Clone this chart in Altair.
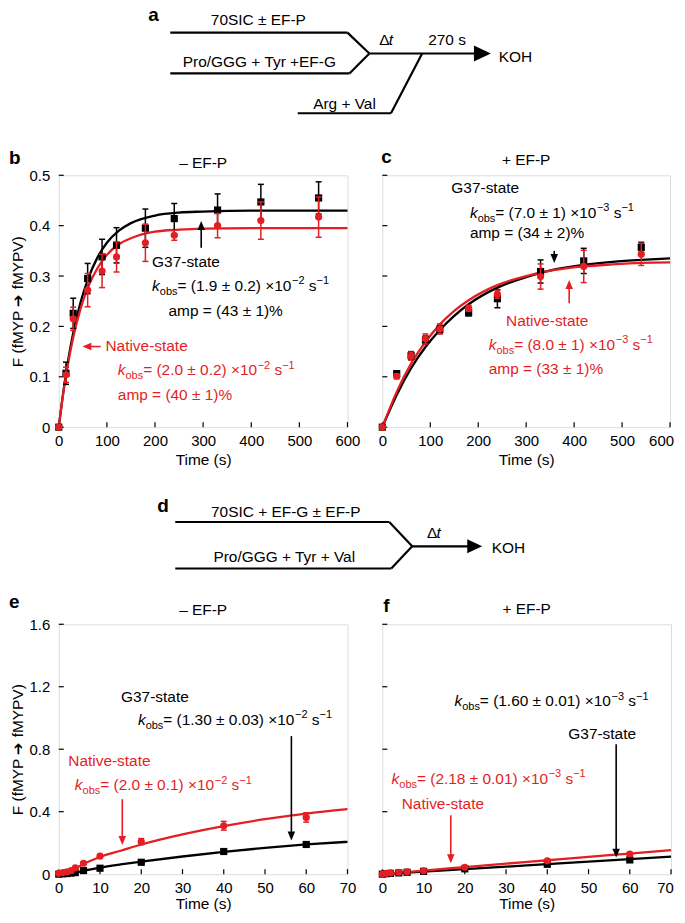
import altair as alt
import pandas as pd

FONT = "Liberation Sans"
RED = "#E31E24"
BLK = "#000000"

# ---------------- panel b: - EF-P (Arg + Val after 270 s) ----------------
b_t = [0, 15, 30, 60, 90, 120, 180, 240, 330, 420, 540]
b_g37 = [0, 0.107, 0.226, 0.295, 0.338, 0.361, 0.395, 0.414, 0.431, 0.447, 0.455]
b_g37_err = [0, 0.022, 0.030, 0.030, 0.035, 0.035, 0.038, 0.030, 0.032, 0.035, 0.032]
b_nat = [0, 0.104, 0.215, 0.272, 0.310, 0.338, 0.366, 0.381, 0.400, 0.410, 0.417]
b_nat_err = [0, 0.015, 0.023, 0.033, 0.033, 0.030, 0.037, 0.010, 0.024, 0.037, 0.040]
b_fit_t = [0, 10, 20, 30, 45, 60, 80, 100, 125, 150, 200, 250, 300, 400, 600]
b_fit_g37 = [0, 0.074, 0.136, 0.187, 0.247, 0.292, 0.336, 0.366, 0.390, 0.405, 0.420, 0.426, 0.428, 0.430, 0.430]
b_fit_nat = [0, 0.072, 0.130, 0.178, 0.234, 0.276, 0.315, 0.342, 0.363, 0.375, 0.388, 0.392, 0.394, 0.395, 0.395]

# ---------------- panel c: + EF-P ----------------
c_t = [0, 30, 60, 90, 120, 180, 240, 330, 420, 540]
c_g37 = [0, 0.106, 0.142, 0.173, 0.194, 0.227, 0.255, 0.309, 0.330, 0.357]
c_g37_err = [0, 0.006, 0.008, 0.008, 0.008, 0.006, 0.018, 0.023, 0.025, 0.010]
c_nat = [0, 0.101, 0.141, 0.175, 0.195, 0.236, 0.264, 0.299, 0.319, 0.343]
c_nat_err = [0, 0.005, 0.008, 0.010, 0.010, 0.006, 0.008, 0.025, 0.032, 0.022]
c_fit_t = [0, 30, 60, 90, 120, 150, 180, 240, 300, 360, 420, 480, 540, 600]
c_fit_g37 = [0, 0.064, 0.117, 0.159, 0.193, 0.221, 0.244, 0.277, 0.298, 0.313, 0.322, 0.328, 0.332, 0.335]
c_fit_nat = [0, 0.070, 0.126, 0.169, 0.204, 0.231, 0.252, 0.282, 0.300, 0.312, 0.319, 0.323, 0.326, 0.327]

# ---------------- panel e: - EF-P (Pro/GGG + Tyr + Val) ----------------
e_t = [0, 1, 2, 3, 4, 6, 10, 20, 40, 60]
e_g37 = [0, 0.002, 0.004, 0.007, 0.010, 0.023, 0.038, 0.076, 0.145, 0.190]
e_g37_err = [0, 0.002, 0.002, 0.003, 0.004, 0.005, 0.006, 0.008, 0.010, 0.012]
e_nat = [0.005, 0.010, 0.015, 0.022, 0.040, 0.070, 0.115, 0.208, 0.310, 0.363]
e_nat_err = [0.004, 0.005, 0.005, 0.006, 0.008, 0.010, 0.012, 0.020, 0.028, 0.030]
e_fit_t = [0, 2, 4, 6, 10, 15, 20, 30, 40, 50, 60, 70]
e_fit_g37 = [0, 0.002, 0.010, 0.022, 0.042, 0.062, 0.080, 0.113, 0.143, 0.168, 0.190, 0.207]
e_fit_nat = [0, 0.010, 0.035, 0.065, 0.110, 0.150, 0.190, 0.255, 0.308, 0.352, 0.388, 0.416]

# ---------------- panel f: + EF-P ----------------
f_t = [0, 1, 2, 4, 6, 10, 20, 40, 60]
f_g37 = [0, 0.003, 0.005, 0.008, 0.012, 0.018, 0.034, 0.063, 0.091]
f_g37_err = [0, 0.002, 0.002, 0.003, 0.003, 0.004, 0.005, 0.006, 0.008]
f_nat = [0, 0.005, 0.008, 0.012, 0.015, 0.021, 0.044, 0.085, 0.129]
f_nat_err = [0, 0.002, 0.003, 0.003, 0.004, 0.005, 0.006, 0.008, 0.010]
f_fit_t = [0, 10, 20, 30, 40, 50, 60, 70]
f_fit_g37 = [0, 0.016, 0.032, 0.048, 0.064, 0.080, 0.096, 0.112]
f_fit_nat = [0, 0.023, 0.045, 0.067, 0.089, 0.111, 0.132, 0.154]

# ---------------- axes ticks ----------------
ticks_long_t = [0, 100, 200, 300, 400, 500, 600]
ticks_short_t = [0, 10, 20, 30, 40, 50, 60, 70]
ticks_F_top = [0, 0.1, 0.2, 0.3, 0.4, 0.5]
ticks_F_bottom = [0, 0.4, 0.8, 1.2, 1.6]

# ---------------- schematic texts ----------------
schem_a_texts = ["70SIC ± EF-P", "Pro/GGG + Tyr +EF-G", "270 s", "KOH", "Arg + Val"]
schem_d_texts = ["70SIC + EF-G ± EF-P", "Pro/GGG + Tyr + Val", "KOH"]

# ---------------- text metrics (Arial / Liberation Sans) ----------------
CW = {' ': 278, '(': 333, ')': 333, '.': 278, '±': 584, '=': 584, '×': 584, '−': 584,
      '%': 889, '-': 333, '+': 584, 'k': 500, 'o': 556, 'b': 556, 's': 500, 'Δ': 612}


def tw(s, fs):
    return sum(CW.get(ch, 556) for ch in s) / 1000.0 * fs


FS = 15.5
SUB = 11


def kobs_segs(mant, exp):
    # (text, font size, style, dy, gap before)
    return [("k", FS, "italic", 0, 0), ("obs", SUB, "normal", 4, 0),
            ("= (" + mant + ") ×10", FS, "normal", 0, 0), ("−" + exp, SUB, "normal", -6.5, 0),
            ("s", FS, "normal", 0, tw(" ", FS)), ("−1", SUB, "normal", -6.5, 0)]


ONE = alt.Data(values=[{"k": 0}])

HEAD_DOWN = "M0,0 L-0.42,-1 L0.42,-1 Z"
HEAD_UP = "M0,0 L-0.42,1 L0.42,1 Z"
HEAD_LEFT = "M0,0 L1,-0.42 L1,0.42 Z"
HEAD_RIGHT = "M0,0 L-1,-0.47 L-1,0.47 Z"


# ---------------- schematic helpers (pixel offsets relative to a panel) ----------------
def sline(x1, y1, x2, y2):
    return alt.Chart(ONE).mark_rule(color=BLK, strokeWidth=2.2).encode(
        x=alt.value(x1), x2=alt.value(x2), y=alt.value(y1), y2=alt.value(y2))


def stext(x, y, text, align="left", fs=15.5, weight="normal", style="normal"):
    return alt.Chart(ONE).mark_text(text=text, align=align, baseline="alphabetic", fontSize=fs,
                                    fontWeight=weight, fontStyle=style, color=BLK, font=FONT
                                    ).encode(x=alt.value(x), y=alt.value(y))


def shead(x, y, length):
    return alt.Chart(ONE).mark_point(shape=HEAD_RIGHT, filled=True, size=(2 * length) ** 2,
                                     opacity=1, color=BLK).encode(x=alt.value(x), y=alt.value(y))


def sdelta(x, y):
    return [stext(x, y, "Δ"), stext(x + tw("Δ", 15.5), y, "t", style="italic")]


def schem_a_layers(oy):
    return [
        sline(112, 22.7 + oy, 290, 22.7 + oy), sline(290, 22.7 + oy, 312, 43.7 + oy),
        sline(112, 63.7 + oy, 292, 63.7 + oy), sline(292, 63.7 + oy, 312, 43.7 + oy),
        sline(312, 43.7 + oy, 424, 43.7 + oy), shead(434, 43.7 + oy, 17),
        sline(365, 43.7 + oy, 333.7, 103.7 + oy), sline(240, 103.7 + oy, 333.7, 103.7 + oy),
        stext(90, 11 + oy, "a", fs=19, weight="bold"),
        stext(200.5, 15 + oy, schem_a_texts[0], align="center"),
        stext(201.5, 57 + oy, schem_a_texts[1], align="center"),
        *sdelta(322, 35 + oy),
        stext(390, 35 + oy, schem_a_texts[2], align="center"),
        stext(442, 52.5 + oy, schem_a_texts[3]),
        stext(287, 99 + oy, schem_a_texts[4], align="center"),
    ]


def schem_d_layers(oy):
    return [
        sline(117, 95.3 + oy, 332, 95.3 + oy), sline(332, 95.3 + oy, 355, 119.7 + oy),
        sline(117, 142 + oy, 334, 142 + oy), sline(334, 142 + oy, 355, 119.7 + oy),
        sline(355, 119.7 + oy, 416, 119.7 + oy), shead(425.3, 119.7 + oy, 15),
        stext(99, 85 + oy, "d", fs=19, weight="bold"),
        stext(228, 90 + oy, schem_d_texts[0], align="center"),
        stext(226.5, 135 + oy, schem_d_texts[1], align="center"),
        *sdelta(370, 111 + oy),
        stext(435, 126.5 + oy, schem_d_texts[2]),
    ]


def make_panel(P, extra=()):
    w, h = P["w"], P["h"]
    xs = alt.Scale(domain=P["xdom"], nice=False, zero=False)
    ys = alt.Scale(domain=P["ydom"], nice=False, zero=False)
    last = P["xticks"][-1]
    xaxis = alt.Axis(values=P["xticks"], title="Time (s)", domain=False, ticks=False, grid=False,
                     labelFontSize=15, labelFont=FONT, labelColor=BLK,
                     labelPadding=P["lpad"], labelFlush=False, labelOverlap=False, format="d",
                     labelOffset={"condition": {"test": "datum.value == %d" % last,
                                                "value": P["last_off"]}, "value": 0},
                     titleFontSize=15.5, titleFont=FONT, titleFontWeight="normal",
                     titleColor=BLK, titlePadding=P["tpad"])
    if P["ylab"]:
        yaxis = alt.Axis(values=P["yticks"], title="F (fMYP ➔ fMYPV)", domain=False, ticks=False,
                         grid=False, labelFontSize=15, labelFont=FONT, labelColor=BLK,
                         labelPadding=9, labelFlush=False, labelOverlap=False,
                         labelExpr="datum.value == 0 ? '0' : format(datum.value, '.1f')",
                         titleFontSize=15.5, titleFont=FONT, titleFontWeight="normal",
                         titleColor=BLK, titlePadding=4)
    else:
        yaxis = None

    def X(f):
        return alt.X(f, type="quantitative", scale=xs, axis=xaxis)

    def Y(f):
        return alt.Y(f, type="quantitative", scale=ys, axis=yaxis)

    layers = []
    # inward ticks
    layers.append(alt.Chart(pd.DataFrame({"t": P["xticks"]})).mark_rule(color=BLK, strokeWidth=1.2)
                  .encode(x=X("t"), y=alt.value(h), y2=alt.value(h - 5)))
    layers.append(alt.Chart(pd.DataFrame({"F": P["yticks"]})).mark_rule(color=BLK, strokeWidth=1.2)
                  .encode(y=Y("F"), x=alt.value(0), x2=alt.value(5)))
    # fit lines
    fit = pd.DataFrame({"t": P["fit_t"], "g": P["fit_g"], "n": P["fit_n"]})
    layers.append(alt.Chart(fit).mark_line(color=BLK, strokeWidth=2.3, interpolate="monotone")
                  .encode(x=X("t"), y=Y("g")))
    layers.append(alt.Chart(fit).mark_line(color=RED, strokeWidth=2.3, interpolate="monotone")
                  .encode(x=X("t"), y=Y("n")))
    # points with error bars
    for tvals, vals, errs, color, shape in [
        (P["tg"], P["g"], P["ge"], BLK, "square"),
        (P["tn"], P["n"], P["ne"], RED, "circle"),
    ]:
        df = pd.DataFrame({"t": tvals, "v": vals,
                           "lo": [max(P["ydom"][0], v - e) for v, e in zip(vals, errs)],
                           "hi": [v + e for v, e in zip(vals, errs)]})
        layers.append(alt.Chart(df).mark_rule(color=color, strokeWidth=1.5)
                      .encode(x=X("t"), y=Y("lo"), y2="hi"))
        for endf in ["lo", "hi"]:
            layers.append(alt.Chart(df).mark_tick(color=color, orient="horizontal", size=6,
                                                  thickness=1.5, opacity=1)
                          .encode(x=X("t"), y=Y(endf)))
        layers.append(alt.Chart(df).mark_point(shape=shape, filled=True, size=52, opacity=1,
                                               color=color)
                      .encode(x=X("t"), y=Y("v")))
    # annotations
    for ann in P["texts"]:
        t0, F0, kind, content, color = ann
        segs = kobs_segs(*content) if kind == "kobs" else [(content, FS, "normal", 0, 0)]
        dx = 0.0
        for text, fs, style, dy, gap in segs:
            dx += gap
            layers.append(alt.Chart(alt.Data(values=[{"t": t0, "F": F0}]))
                          .mark_text(text=text, align="left", baseline="alphabetic", dx=dx, dy=dy,
                                     fontSize=fs, fontStyle=style, color=color, font=FONT)
                          .encode(x=X("t"), y=Y("F")))
            dx += tw(text, fs)
    # arrows
    xspan = P["xdom"][1] - P["xdom"][0]
    yspan = P["ydom"][1] - P["ydom"][0]
    HL = 9.0
    for (t0, F0, t1, F1, color, sw) in P["arrows"]:
        if t0 == t1:
            d = (HL * 0.6) / h * yspan
            Fend = F1 - d if F1 > F0 else F1 + d
            tend = t1
            shape = HEAD_UP if F1 > F0 else HEAD_DOWN
        else:
            d = (HL * 0.6) / w * xspan
            tend = t1 + d if t1 < t0 else t1 - d
            Fend = F1
            shape = HEAD_LEFT if t1 < t0 else HEAD_RIGHT
        seg = pd.DataFrame({"t": [t0], "F": [F0], "t2": [tend], "F2": [Fend]})
        layers.append(alt.Chart(seg).mark_rule(color=color, strokeWidth=sw)
                      .encode(x=X("t"), y=Y("F"), x2="t2", y2="F2"))
        tip = pd.DataFrame({"t": [t1], "F": [F1]})
        layers.append(alt.Chart(tip).mark_point(shape=shape, filled=True, size=(2 * HL) ** 2,
                                                opacity=1, color=color)
                      .encode(x=X("t"), y=Y("F")))
    # panel title and letter
    layers.append(alt.Chart(ONE).mark_text(text=P["title"], fontSize=15.5, align="center",
                                           baseline="alphabetic", color=BLK, font=FONT)
                  .encode(x=alt.value(w / 2), y=alt.value(P["title_y"])))
    layers.append(alt.Chart(ONE).mark_text(text=P["letter"], fontSize=19, fontWeight="bold",
                                           align="left", baseline="alphabetic", color=BLK,
                                           font=FONT)
                  .encode(x=alt.value(P["letter_x"]), y=alt.value(P["letter_y"])))
    layers.extend(extra)
    return alt.layer(*layers).properties(width=w, height=h)


PB = dict(w=290, h=253, xdom=[0, 600], ydom=[0, 0.5], xticks=ticks_long_t, yticks=ticks_F_top,
          ylab=True, lpad=6, tpad=5, last_off=0, fit_t=b_fit_t, fit_g=b_fit_g37, fit_n=b_fit_nat,
          tg=b_t, g=b_g37, ge=b_g37_err, tn=b_t, n=b_nat, ne=b_nat_err,
          texts=[(194, 0.317, "plain", "G37-state", BLK),
                 (194, 0.271, "kobs", ("1.9 ± 0.2", "2"), BLK),
                 (228, 0.221, "plain", "amp = (43 ± 1)%", BLK),
                 (97, 0.151, "plain", "Native-state", RED),
                 (122.7, 0.103, "kobs", ("2.0 ± 0.2", "2"), RED),
                 (122.7, 0.053, "plain", "amp = (40 ± 1)%", RED)],
          arrows=[(296, 0.356, 296, 0.409, BLK, 1.6), (87, 0.160, 49, 0.160, RED, 1.6)],
          title="– EF-P", title_y=-7, letter="b", letter_x=-50, letter_y=-11)

PC = dict(w=289, h=253, xdom=[0, 600], ydom=[0, 0.5], xticks=ticks_long_t, yticks=ticks_F_top,
          ylab=False, lpad=6, tpad=5, last_off=-9, fit_t=c_fit_t, fit_g=c_fit_g37, fit_n=c_fit_nat,
          tg=c_t, g=c_g37, ge=c_g37_err, tn=c_t, n=c_nat, ne=c_nat_err,
          texts=[(144, 0.464, "plain", "G37-state", BLK),
                 (182.7, 0.416, "kobs", ("7.0 ± 1", "3"), BLK),
                 (182.7, 0.375, "plain", "amp = (34 ± 2)%", BLK),
                 (258, 0.200, "plain", "Native-state", RED),
                 (222, 0.154, "kobs", ("8.0 ± 1", "3"), RED),
                 (222, 0.105, "plain", "amp = (33 ± 1)%", RED)],
          arrows=[(358.5, 0.350, 358.5, 0.326, BLK, 1.6), (389.7, 0.246, 389.7, 0.292, RED, 1.6)],
          title="+ EF-P", title_y=-10, letter="c", letter_x=-1, letter_y=-12)

PE = dict(w=290, h=251, xdom=[0, 70], ydom=[0, 1.6], xticks=ticks_short_t, yticks=ticks_F_bottom,
          ylab=True, lpad=6, tpad=2, last_off=0, fit_t=e_fit_t, fit_g=e_fit_g37, fit_n=e_fit_nat,
          tg=e_t, g=e_g37, ge=e_g37_err, tn=e_t, n=e_nat, ne=e_nat_err,
          texts=[(15.1, 1.103, "plain", "G37-state", BLK),
                 (19.2, 0.958, "kobs", ("1.30 ± 0.03", "2"), BLK),
                 (2.3, 0.693, "plain", "Native-state", RED),
                 (3.9, 0.537, "kobs", ("2.0 ± 0.1", "2"), RED)],
          arrows=[(56.4, 0.884, 56.4, 0.215, BLK, 1.6), (15.4, 0.48, 15.4, 0.187, RED, 1.6)],
          title="– EF-P", title_y=-9, letter="e", letter_x=-50, letter_y=-16)

PF = dict(w=290, h=251, xdom=[0, 70], ydom=[0, 1.6], xticks=ticks_short_t, yticks=ticks_F_bottom,
          ylab=False, lpad=6, tpad=2, last_off=-6, fit_t=f_fit_t, fit_g=f_fit_g37, fit_n=f_fit_nat,
          tg=f_t, g=f_g37, ge=f_g37_err, tn=f_t, n=f_nat, ne=f_nat_err,
          texts=[(17.5, 1.075, "kobs", ("1.60 ± 0.01", "3"), BLK),
                 (45.1, 0.863, "plain", "G37-state", BLK),
                 (2.25, 0.578, "kobs", ("2.18 ± 0.01", "3"), RED),
                 (4.7, 0.415, "plain", "Native-state", RED)],
          arrows=[(56.7, 0.832, 56.7, 0.106, BLK, 1.6), (16.6, 0.377, 16.6, 0.07, RED, 1.6)],
          title="+ EF-P", title_y=-10, letter="f", letter_x=1, letter_y=-12)

panel_b = make_panel(PB, extra=schem_a_layers(-166))
panel_c = make_panel(PC)
panel_e = make_panel(PE, extra=schem_d_layers(-198))
panel_f = make_panel(PF)

chart = alt.concat(panel_b, panel_c, panel_e, panel_f, columns=2,
                   spacing={"row": 198, "column": 35}, bounds="flush",
                   padding={"left": 0, "top": -5, "right": 0, "bottom": 0}
                   ).configure_view(stroke=BLK, strokeWidth=1.3).configure(font=FONT)

chart.save("out.html", embed_options={"renderer": "svg", "actions": False})
